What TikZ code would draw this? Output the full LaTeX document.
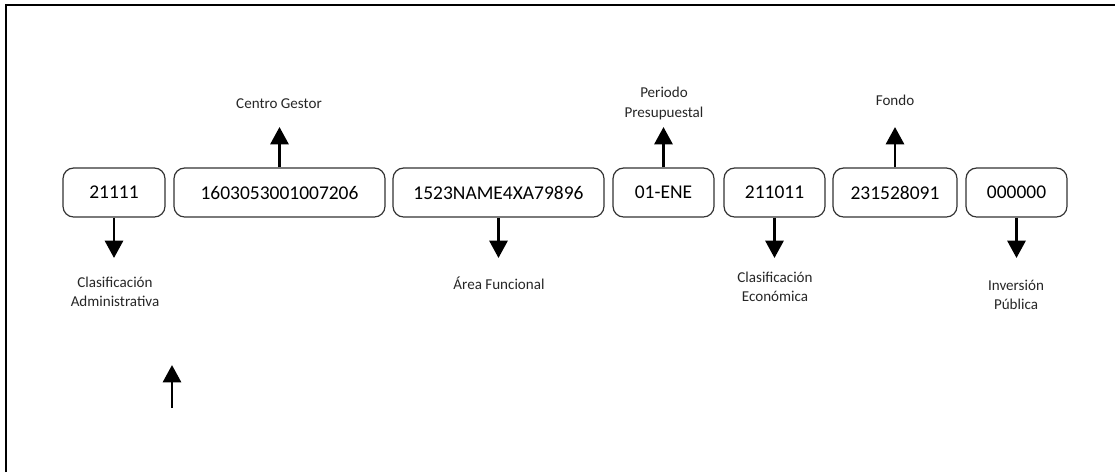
\documentclass[tikz,border=0pt]{standalone}
\usepackage{fontspec}
\setmainfont{Carlito}
\usetikzlibrary{arrows.meta}
\tikzset{
  box/.style={draw=black!80, line width=0.9pt, rounded corners=8pt, minimum height=36.75pt, inner sep=0pt, font=\fontsize{14.6}{18}\selectfont},
  lbl/.style={align=center, text=black!85, inner sep=0pt, font=\fontsize{11.3}{14.3}\selectfont},
  arr/.style={line width=2.2pt, -{Triangle[width=13.5pt,length=13pt]}},
  frame/.style={line width=1.6pt}
}
\begin{document}
\begin{tikzpicture}[x=0.75pt,y=-0.75pt]
\useasboundingbox (0,0) rectangle (1115,472);
\coordinate (f0) at (6,472);
\coordinate (f1) at (6,5);
\coordinate (f2) at (1115,5);
\draw[frame] (f0) -- (f1) -- (f2);

\node[box, minimum width=76.5pt]   (b1) at (114,192.5)   {21111};
\node[box, minimum width=158.25pt] (b2) at (279.5,192.5) {1603053001007206};
\node[box, minimum width=158.25pt] (b3) at (498.5,192.5) {1523NAME4XA79896};
\node[box, minimum width=75.75pt]  (b4) at (663.5,192.5) {01-ENE};
\node[box, minimum width=75.75pt]  (b5) at (774.5,192.5) {211011};
\node[box, minimum width=93pt]     (b6) at (895,192.5)   {231528091};
\node[box, minimum width=75.75pt]  (b7) at (1016.5,192.5){000000};

\node[lbl] (l1) at (115,291.5) {Clasificación\\Administrativa};
\node[lbl] (l2) at (279,104)   {Centro Gestor};
\node[lbl] (l3) at (499,283)   {Área Funcional};
\node[lbl] (l4) at (664,103.5) {Periodo\\Presupuestal};
\node[lbl] (l5) at (775,287)   {Clasificación\\Económica};
\node[lbl] (l6) at (895,100)   {Fondo};
\node[lbl] (l7) at (1016,294.5){Inversión\\Pública};

\coordinate (t1) at (b1.south |- 0,258);
\coordinate (t2) at (b2.north |- 0,127);
\coordinate (t3) at (b3.south |- 0,258);
\coordinate (t4) at (b4.north |- 0,127);
\coordinate (t5) at (b5.south |- 0,258);
\coordinate (t6) at (b6.north |- 0,127);
\coordinate (t7) at (b7.south |- 0,258);

\draw[arr] (b1.south) -- (t1);
\draw[arr] (b2.north) -- (t2);
\draw[arr] (b3.south) -- (t3);
\draw[arr] (b4.north) -- (t4);
\draw[arr] (b5.south) -- (t5);
\draw[arr] (b6.north) -- (t6);
\draw[arr] (b7.south) -- (t7);

\coordinate (s0) at (172,408);
\coordinate (s1) at (172,365);
\draw[arr] (s0) -- (s1);
\end{tikzpicture}
\end{document}
